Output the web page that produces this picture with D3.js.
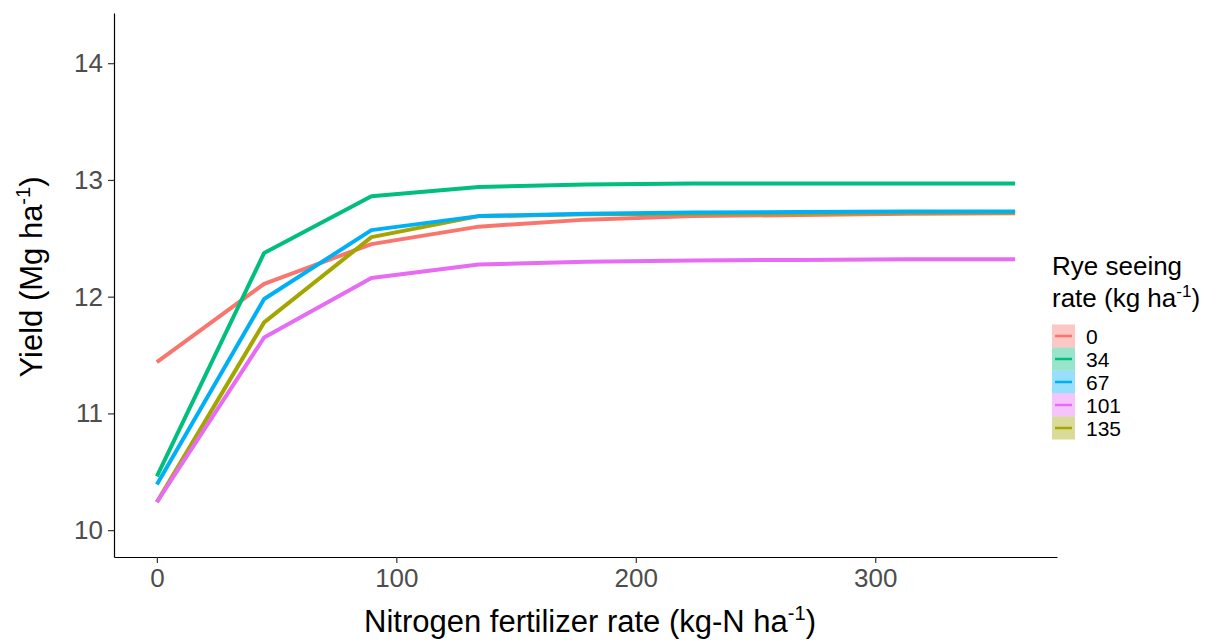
<!DOCTYPE html>
<html>
<head>
<meta charset="utf-8">
<script src="https://cdn.jsdelivr.net/npm/d3@7"></script>
<style>
  body { margin: 0; background: #fff; }
  svg text { font-family: "Liberation Sans", Arial, sans-serif; }
</style>
</head>
<body>
<div id="chart"></div>
<script>
// nitrogen rates (kg-N/ha)
const nRate = [0, 44.8, 89.6, 134.4, 179.2, 224, 268.8, 313.6, 358.4];
// yield per rye seeding rate (Mg/ha)
const rye0   = [11.44, 12.11, 12.45, 12.60, 12.66, 12.69, 12.70, 12.71, 12.715];
const rye34  = [10.46, 12.375, 12.86, 12.94, 12.96, 12.97, 12.97, 12.97, 12.97];
const rye67  = [10.39, 11.98, 12.57, 12.69, 12.71, 12.72, 12.725, 12.73, 12.73];
const rye101 = [10.24, 11.65, 12.16, 12.275, 12.30, 12.31, 12.315, 12.32, 12.32];
const rye135 = [10.24, 11.78, 12.51, 12.69, 12.705, 12.71, 12.715, 12.72, 12.72];

const seedLabels = ["0", "34", "67", "101", "135"];
const seedColors = ["#F8766D", "#00BF7D", "#00B0F6", "#E76BF3", "#A3A500"];
const xTicks = [0, 100, 200, 300];
const yTicks = [10, 11, 12, 13, 14];

const series = [rye0, rye34, rye67, rye101, rye135].map((v, i) => ({
  label: seedLabels[i], color: seedColors[i],
  values: v.map((y, j) => [nRate[j], y])
}));
// draw order as in the picture
const drawOrder = [0, 4, 1, 2, 3];

const width = 1206, height = 640;
const svg = d3.select('#chart').append('svg')
  .attr('width', width)
  .attr('height', height);

const x = d3.scaleLinear().domain([-17.9, 375.9]).range([114, 1057]);
const y = d3.scaleLinear().domain([9.77, 14.43]).range([557, 13]);

const line = d3.line().x(d => x(d[0])).y(d => y(d[1]));

svg.append('g').selectAll('path')
  .data(drawOrder.map(i => series[i]))
  .enter().append('path')
    .attr('d', d => line(d.values))
    .attr('fill', 'none')
    .attr('stroke', d => d.color)
    .attr('stroke-width', 4)
    .attr('stroke-linejoin', 'round');

// y axis
const yAxis = svg.append('g')
  .attr('transform', 'translate(114,0)')
  .call(d3.axisLeft(y).tickValues(yTicks).tickFormat(d3.format('d'))
    .tickSize(6).tickSizeOuter(0).tickPadding(5));
yAxis.select('.domain').attr('stroke', '#000').attr('stroke-width', 1.2);
yAxis.selectAll('.tick line').attr('stroke', '#333').attr('stroke-width', 1.2);
yAxis.selectAll('.tick text')
  .attr('font-size', 26).attr('fill', '#4D4D4D')
  .attr('font-family', '"Liberation Sans", Arial, sans-serif');

// x axis
const xAxis = svg.append('g')
  .attr('transform', 'translate(0,557)')
  .call(d3.axisBottom(x).tickValues(xTicks).tickSize(6).tickSizeOuter(0).tickPadding(6));
xAxis.select('.domain').attr('stroke', '#000').attr('stroke-width', 1.2);
xAxis.selectAll('.tick line').attr('stroke', '#333').attr('stroke-width', 1.2);
xAxis.selectAll('.tick text')
  .attr('font-size', 26).attr('fill', '#4D4D4D')
  .attr('font-family', '"Liberation Sans", Arial, sans-serif');

// axis titles
const xt = svg.append('text')
  .attr('x', 590).attr('y', 632)
  .attr('text-anchor', 'middle')
  .attr('font-size', 31)
  .attr('fill', '#000');
xt.append('tspan').text('Nitrogen fertilizer rate (kg-N ha');
xt.append('tspan').attr('dy', -12).attr('font-size', 20).text('-1');
xt.append('tspan').attr('dy', 12).text(')');

const yt = svg.append('text')
  .attr('transform', 'translate(42,277) rotate(-90)')
  .attr('text-anchor', 'middle')
  .attr('font-size', 31)
  .attr('fill', '#000');
yt.append('tspan').text('Yield (Mg ha');
yt.append('tspan').attr('dy', -12).attr('font-size', 20).text('-1');
yt.append('tspan').attr('dy', 12).text(')');

// legend
const lg = svg.append('g').attr('transform', 'translate(1052,0)');
lg.append('text').attr('x', 0).attr('y', 275).attr('font-size', 26).text('Rye seeing');
const lt = lg.append('text').attr('x', 0).attr('y', 307).attr('font-size', 26);
lt.append('tspan').text('rate (kg ha');
lt.append('tspan').attr('dy', -10).attr('font-size', 17).text('-1');
lt.append('tspan').attr('dy', 10).text(')');

const keyH = 23, keyTop = 324.5;
const keys = lg.selectAll('.key')
  .data(series)
  .enter().append('g')
    .attr('class', 'key')
    .attr('transform', (d, i) => 'translate(0,' + (keyTop + i * keyH) + ')');
keys.append('rect')
  .attr('width', 23).attr('height', keyH)
  .attr('fill', d => d.color).attr('fill-opacity', 0.4);
keys.append('line')
  .attr('x1', 3).attr('x2', 20)
  .attr('y1', keyH / 2).attr('y2', keyH / 2)
  .attr('stroke', d => d.color).attr('stroke-width', 2.5);
keys.append('text')
  .attr('x', 34).attr('y', keyH / 2 + 7.5)
  .attr('font-size', 21)
  .text(d => d.label);
</script>
</body>
</html>
